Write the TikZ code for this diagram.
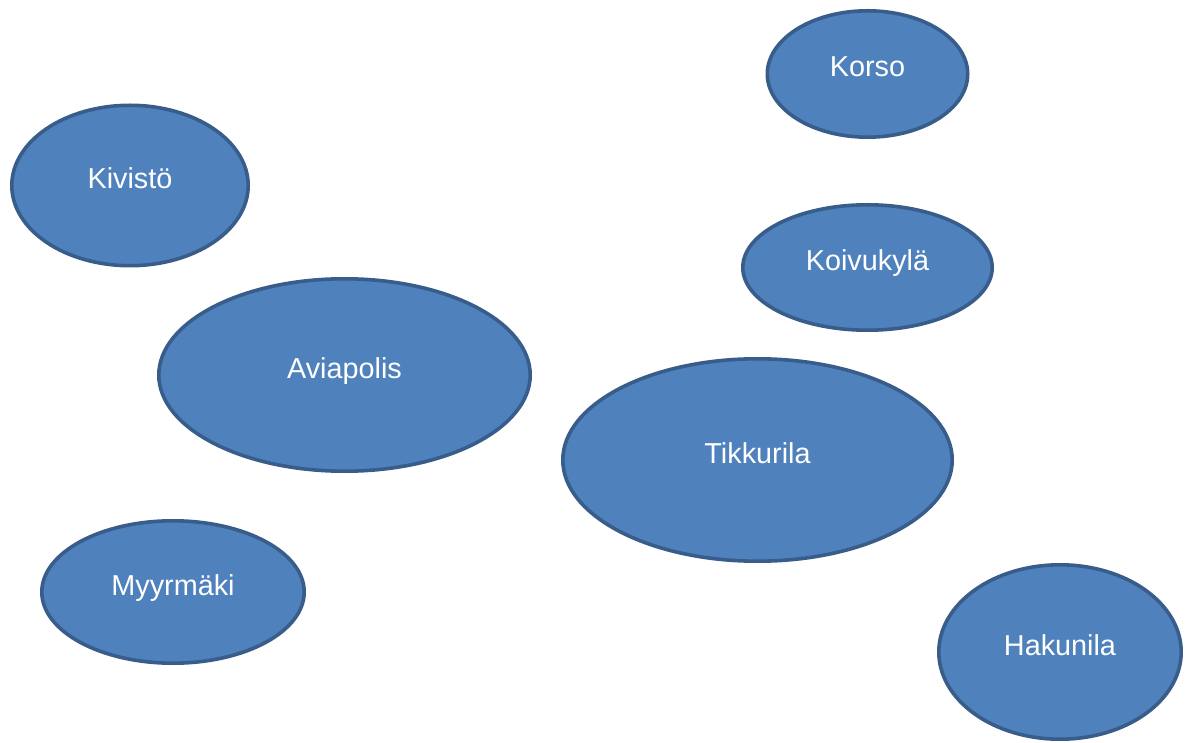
\documentclass[tikz,border=0pt]{standalone}
\usepackage{fontspec}
\setmainfont{Liberation Sans}
\usetikzlibrary{shapes.geometric}
\definecolor{regionfill}{HTML}{4F81BD}
\definecolor{regionline}{HTML}{385D8A}
\begin{document}
\begin{tikzpicture}[x=1pt,y=-1pt,
  region/.style={ellipse, draw=regionline, fill=regionfill, line width=3.6pt, inner sep=0pt, outer sep=0pt},
  placename/.style={anchor=base, text=white, font=\fontsize{28.8}{34}\selectfont, inner sep=0pt}]
\useasboundingbox (0,0) rectangle (1192,743);

% districts
\node[region, minimum width=200.4pt, minimum height=126.4pt] (korso) at (867.5,74) {};
\node[region, minimum width=236.4pt, minimum height=160.4pt] (kivisto) at (130,185.5) {};
\node[region, minimum width=249.4pt, minimum height=125.4pt] (koivukyla) at (867.5,267.5) {};
\node[region, minimum width=371.4pt, minimum height=192.4pt] (aviapolis) at (344.5,375) {};
\node[region, minimum width=389.4pt, minimum height=202.4pt] (tikkurila) at (757.5,460) {};
\node[region, minimum width=262.4pt, minimum height=142.4pt] (myyrmaki) at (173,592) {};
\node[region, minimum width=242.4pt, minimum height=174.4pt] (hakunila) at (1060,652) {};

% names, baseline slightly below each centre
\node[placename] (korso-t) at ([yshift=-3pt]korso.center) {Korso};
\node[placename] (kivisto-t) at ([yshift=-3pt]kivisto.center) {Kivistö};
\node[placename] (koivukyla-t) at ([yshift=-3pt]koivukyla.center) {Koivukylä};
\node[placename] (aviapolis-t) at ([yshift=-3pt]aviapolis.center) {Aviapolis};
\node[placename] (tikkurila-t) at ([yshift=-3pt]tikkurila.center) {Tikkurila};
\node[placename] (myyrmaki-t) at ([yshift=-3pt]myyrmaki.center) {Myyrmäki};
\node[placename] (hakunila-t) at ([yshift=-3pt]hakunila.center) {Hakunila};
\end{tikzpicture}
\end{document}
